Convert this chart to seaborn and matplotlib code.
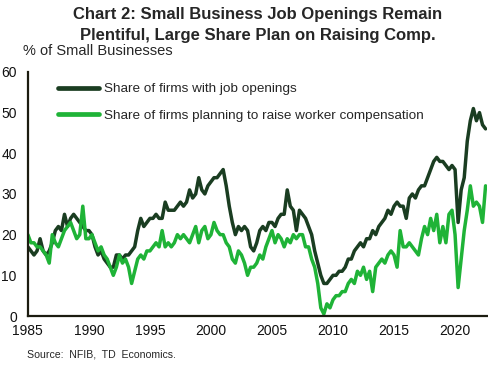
import numpy as np
import pandas as pd
import matplotlib.pyplot as plt
import seaborn as sns

# Quarterly readings, 1985Q1 .. 2022Q3 (% of small businesses)
job_openings = [
    17, 16, 15, 16,   # 1985
    19, 16, 15, 16,   # 1986
    18, 21, 22, 21,   # 1987
    25, 22, 24, 25,   # 1988
    24, 23, 22, 21,   # 1989
    21, 20, 17, 15,   # 1990
    16, 14, 13, 12,   # 1991
    12, 15, 15, 14,   # 1992
    15, 15, 16, 17,   # 1993
    21, 24, 22, 23,   # 1994
    24, 24, 25, 24,   # 1995
    24, 28, 26, 26,   # 1996
    26, 27, 28, 27,   # 1997
    28, 31, 29, 30,   # 1998
    34, 31, 30, 32,   # 1999
    33, 34, 34, 35,   # 2000
    36, 32, 27, 23,   # 2001
    20, 22, 21, 22,   # 2002
    21, 17, 16, 18,   # 2003
    21, 22, 21, 23,   # 2004
    23, 22, 24, 25,   # 2005
    25, 31, 27, 26,   # 2006
    21, 26, 25, 24,   # 2007
    22, 20, 16, 13,   # 2008
    10, 8, 8, 9,      # 2009
    10, 10, 11, 11,   # 2010
    12, 14, 14, 16,   # 2011
    17, 18, 17, 19,   # 2012
    19, 21, 20, 22,   # 2013
    23, 24, 26, 25,   # 2014
    27, 28, 27, 27,   # 2015
    24, 29, 30, 29,   # 2016
    31, 32, 32, 34,   # 2017
    36, 38, 39, 38,   # 2018
    38, 37, 36, 37,   # 2019
    36, 23, 31, 34,   # 2020
    43, 48, 51, 48,   # 2021
    50, 47, 46,       # 2022
]

comp_plans = [
    20, 18, 18, 17,   # 1985
    17, 16, 15, 13,   # 1986
    20, 18, 17, 19,   # 1987
    21, 22, 23, 21,   # 1988
    19, 20, 27, 19,   # 1989
    19, 20, 18, 16,   # 1990
    17, 15, 14, 12,   # 1991
    10, 12, 15, 13,   # 1992
    14, 12, 8, 11,    # 1993
    14, 15, 14, 16,   # 1994
    16, 17, 18, 17,   # 1995
    21, 17, 18, 17,   # 1996
    18, 20, 19, 20,   # 1997
    19, 18, 20, 22,   # 1998
    18, 21, 22, 19,   # 1999
    20, 23, 21, 20,   # 2000
    20, 18, 17, 14,   # 2001
    13, 16, 15, 13,   # 2002
    10, 12, 12, 13,   # 2003
    15, 14, 17, 19,   # 2004
    21, 18, 20, 19,   # 2005
    17, 19, 18, 20,   # 2006
    19, 20, 20, 17,   # 2007
    17, 14, 12, 8,    # 2008
    2, 0.5, 3, 2,     # 2009
    4, 5, 5, 6,       # 2010
    6, 8, 9, 8,       # 2011
    11, 10, 12, 9,    # 2012
    11, 6, 12, 13,    # 2013
    14, 13, 15, 16,   # 2014
    15, 12, 21, 17,   # 2015
    17, 18, 17, 16,   # 2016
    15, 19, 22, 20,   # 2017
    24, 21, 25, 18,   # 2018
    22, 18, 25, 26,   # 2019
    20, 7, 14, 21,    # 2020
    26, 32, 27, 28,   # 2021
    27, 23, 32,       # 2022
]

periods = pd.period_range("1985Q1", periods=len(job_openings), freq="Q")
year_frac = periods.year + (periods.quarter - 1) / 4

label_jobs = "Share of firms with job openings"
label_comp = "Share of firms planning to raise worker compensation"
x_ticks = [1985, 1990, 1995, 2000, 2005, 2010, 2015, 2020]
y_ticks = [0, 10, 20, 30, 40, 50, 60]

df = pd.DataFrame({"year": year_frac, "jobs": job_openings, "comp": comp_plans})

sns.set_style("white")
plt.rcParams["font.family"] = ["Liberation Sans", "DejaVu Sans"]

fig = plt.figure(figsize=(4.89, 3.69), dpi=100)
ax = fig.add_axes([0.057, 0.1436, 0.939, 0.6615])

dark = "#1A3D21"
bright = "#1FB337"
sns.lineplot(data=df, x="year", y="jobs", ax=ax, color=dark, linewidth=2.5, label=label_jobs)
sns.lineplot(data=df, x="year", y="comp", ax=ax, color=bright, linewidth=2.5, label=label_comp)

ax.set_xlim(1985, 2022.62)
ax.set_ylim(0, 60)
ax.set_xticks(x_ticks)
ax.set_yticks(y_ticks)
ax.set_xlabel("")
ax.set_ylabel("")
ax.tick_params(axis="both", length=0, labelsize=10, colors="#111111")
ax.tick_params(axis="y", pad=8)
ax.tick_params(axis="x", pad=6)
for side in ["top", "right"]:
    ax.spines[side].set_visible(False)
for side in ["left", "bottom"]:
    ax.spines[side].set_color("#1c1c10")
    ax.spines[side].set_linewidth(1.6)

leg = ax.legend(loc="upper left", bbox_to_anchor=(0.04, 1.005), frameon=False,
                fontsize=9.7, handlelength=3.0, labelspacing=1.05, handletextpad=0.4)
for line in leg.get_lines():
    line.set_linewidth(3.4)

fig.text(0.527, 0.96, "Chart 2: Small Business Job Openings Remain",
         ha="center", va="center", fontsize=12, fontweight="bold")
fig.text(0.527, 0.905, "Plentiful, Large Share Plan on Raising Comp.",
         ha="center", va="center", fontsize=12, fontweight="bold")
fig.text(0.047, 0.862, "% of Small Businesses", ha="left", va="center", fontsize=10.5)
fig.text(0.055, 0.04, "Source:  NFIB,  TD  Economics.", ha="left", va="center", fontsize=7.6)

fig.savefig("out.png", dpi=100)
